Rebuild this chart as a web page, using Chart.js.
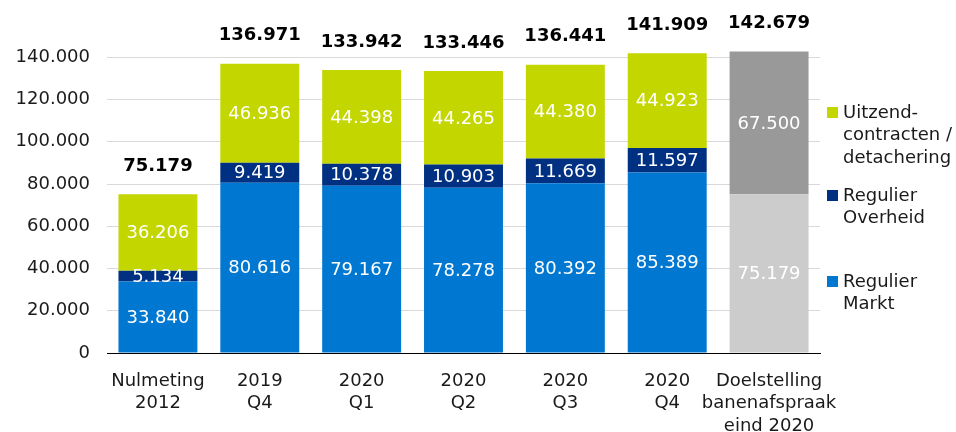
<!DOCTYPE html>
<html>
<head>
<meta charset="utf-8">
<script src="https://cdn.jsdelivr.net/npm/chart.js@4/dist/chart.umd.min.js"></script>
<style>
  html, body { margin: 0; padding: 0; background: #fff; }
  #wrap { width: 956px; height: 432px; }
</style>
</head>
<body>
<div id="wrap"><canvas id="c" width="956" height="432"></canvas></div>
<script>
// ---- data ----
const categories = [
  ["Nulmeting", "2012"],
  ["2019", "Q4"],
  ["2020", "Q1"],
  ["2020", "Q2"],
  ["2020", "Q3"],
  ["2020", "Q4"],
  ["Doelstelling", "banenafspraak", "eind 2020"]
];
const reguliereMarkt    = [33840, 80616, 79167, 78278, 80392, 85389, null];
const regulierOverheid  = [5134, 9419, 10378, 10903, 11669, 11597, null];
const uitzendcontracten = [36206, 46936, 44398, 44265, 44380, 44923, null];
const doelBasis         = [null, null, null, null, null, null, 75179];
const doelExtra         = [null, null, null, null, null, null, 67500];
const totals            = [75179, 136971, 133942, 133446, 136441, 141909, 142679];
const yTicks            = [0, 20000, 40000, 60000, 80000, 100000, 120000, 140000];
const legendLines = [
  ["Uitzend-", "contracten /", "detachering"],
  ["Regulier", "Overheid"],
  ["Regulier", "Markt"]
];

const FONT = "'DejaVu Sans', Verdana, sans-serif";
const colors = {
  markt: '#0078d2',
  overheid: '#003082',
  uitzend: '#c4d600',
  doelBasis: '#cccccc',
  doelExtra: '#999999'
};

function fmt(v) {
  const s = Math.round(v).toString();
  return s.replace(/\B(?=(\d{3})+(?!\d))/g, '.');
}

const labelPlugin = {
  id: 'labels',
  afterDatasetsDraw(chart) {
    const ctx = chart.ctx;
    ctx.save();
    ctx.textAlign = 'center';
    ctx.textBaseline = 'middle';
    ctx.font = '18px ' + FONT;
    ctx.fillStyle = '#ffffff';
    chart.data.datasets.forEach((ds, di) => {
      const meta = chart.getDatasetMeta(di);
      meta.data.forEach((bar, i) => {
        const v = ds.data[i];
        if (v == null) return;
        const y = (bar.y + bar.base) / 2;
        ctx.fillText(fmt(v), bar.x, y + 1);
      });
    });
    ctx.font = 'bold 18px ' + FONT;
    ctx.fillStyle = '#000000';
    const yScale = chart.scales.y;
    const xScale = chart.scales.x;
    totals.forEach((t, i) => {
      const x = xScale.getPixelForValue(i);
      const y = yScale.getPixelForValue(t) - 28;
      ctx.fillText(fmt(t), x, y);
    });
    ctx.restore();
  }
};

const legendPlugin = {
  id: 'customLegend',
  afterDraw(chart) {
    const ctx = chart.ctx;
    const items = [
      { color: colors.uitzend, lines: legendLines[0], top: 113 },
      { color: colors.overheid, lines: legendLines[1], top: 196 },
      { color: colors.markt, lines: legendLines[2], top: 282 }
    ];
    ctx.save();
    ctx.font = '18px ' + FONT;
    ctx.textAlign = 'left';
    ctx.textBaseline = 'middle';
    items.forEach(it => {
      ctx.fillStyle = it.color;
      ctx.fillRect(827, it.top - 6, 11, 11);
      ctx.fillStyle = '#1a1a1a';
      it.lines.forEach((ln, k) => {
        ctx.fillText(ln, 843, it.top + k * 22.5);
      });
    });
    ctx.restore();
  }
};

new Chart(document.getElementById('c'), {
  type: 'bar',
  data: {
    labels: categories,
    datasets: [
      { label: 'Regulier Markt', data: reguliereMarkt, backgroundColor: colors.markt },
      { label: 'Regulier Overheid', data: regulierOverheid, backgroundColor: colors.overheid },
      { label: 'Uitzendcontracten / detachering', data: uitzendcontracten, backgroundColor: colors.uitzend },
      { label: 'Doelstelling basis', data: doelBasis, backgroundColor: colors.doelBasis },
      { label: 'Doelstelling extra', data: doelExtra, backgroundColor: colors.doelExtra }
    ]
  },
  options: {
    responsive: false,
    animation: false,
    layout: { padding: { top: 15, right: 136, left: 0, bottom: 0 } },
    datasets: { bar: { categoryPercentage: 1, barPercentage: 0.775, borderWidth: 0 } },
    plugins: { legend: { display: false }, tooltip: { enabled: false } },
    scales: {
      x: {
        stacked: true,
        grid: { display: false, drawTicks: false },
        border: { display: true, color: '#000000', width: 1 },
        ticks: {
          color: '#1a1a1a',
          font: { family: FONT, size: 18, lineHeight: 1.25 },
          padding: 17,
          maxRotation: 0,
          autoSkip: false
        },
        afterFit(scale) { scale.height = 79; }
      },
      y: {
        stacked: true,
        min: 0,
        max: 160000,
        afterBuildTicks(scale) { scale.ticks = yTicks.map(v => ({ value: v })); },
        grid: {
          drawTicks: false,
          color: '#d9d9d9',
          lineWidth: 1
        },
        border: { display: false },
        ticks: {
          color: '#1a1a1a',
          font: { family: FONT, size: 18 },
          padding: 17,
          callback: (v) => fmt(v)
        },
        afterFit(scale) { scale.width = 107; scale.paddingTop = 0; scale.paddingBottom = 0; }
      }
    }
  },
  plugins: [labelPlugin, legendPlugin]
});
</script>
</body>
</html>
